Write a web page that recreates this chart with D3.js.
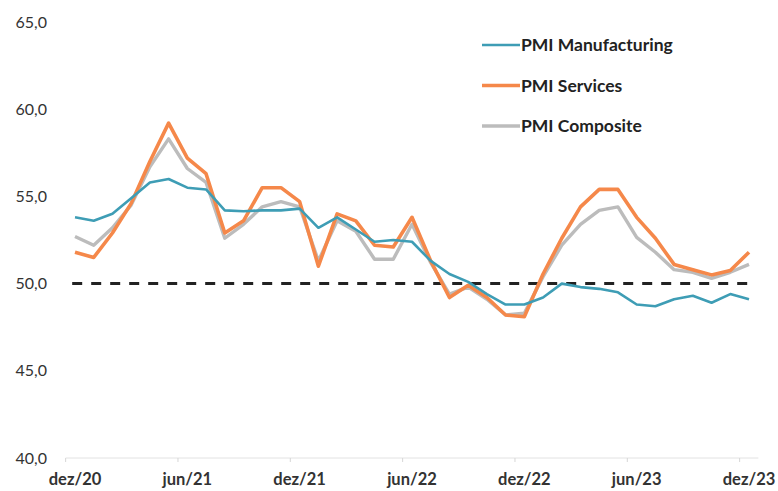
<!DOCTYPE html>
<html>
<head>
<meta charset="utf-8">
<script src="https://cdn.jsdelivr.net/npm/d3@7"></script>
<style>
  body { margin: 0; background: #fff; }
  svg { display: block; }
</style>
</head>
<body>
<svg width="778" height="491"></svg>
<script>
// months dez/20 .. dez/23
const months = [
  "dez/20", "jan/21", "fev/21", "mar/21", "abr/21", "mai/21", "jun/21", "jul/21", "ago/21", "set/21", "out/21", "nov/21",
  "dez/21", "jan/22", "fev/22", "mar/22", "abr/22", "mai/22", "jun/22", "jul/22", "ago/22", "set/22", "out/22", "nov/22",
  "dez/22", "jan/23", "fev/23", "mar/23", "abr/23", "mai/23", "jun/23", "jul/23", "ago/23", "set/23", "out/23", "nov/23",
  "dez/23"
];
const shownLabels = ["dez/20", "jun/21", "dez/21", "jun/22", "dez/22", "jun/23", "dez/23"];

const manufacturing = [
  53.8, 53.6, 54.0, 54.9, 55.8, 56.0, 55.5, 55.4, 54.2, 54.15, 54.2, 54.2,
  54.3, 53.2, 53.8, 53.1, 52.4, 52.5, 52.4, 51.3, 50.55, 50.1, 49.4, 48.8,
  48.8, 49.2, 50.0, 49.8, 49.7, 49.5, 48.8, 48.7, 49.1, 49.3, 48.9, 49.4,
  49.1
];
const services = [
  51.8, 51.5, 52.9, 54.6, 57.0, 59.2, 57.2, 56.3, 52.9, 53.6, 55.5, 55.5,
  54.7, 51.0, 54.0, 53.6, 52.2, 52.1, 53.8, 51.3, 49.2, 49.9, 49.2, 48.2,
  48.1, 50.55, 52.6, 54.4, 55.4, 55.4, 53.8, 52.6, 51.1, 50.8, 50.5, 50.75,
  51.8
];
const composite = [
  52.7, 52.2, 53.2, 54.5, 56.7, 58.3, 56.6, 55.8, 52.6, 53.4, 54.4, 54.7,
  54.4, 51.3, 53.6, 53.0, 51.4, 51.4, 53.4, 51.2, 49.4, 49.8, 49.1, 48.2,
  48.3, 50.4, 52.2, 53.4, 54.2, 54.4, 52.65, 51.8, 50.8, 50.65, 50.3, 50.65,
  51.1
];
const yTicks = [40, 45, 50, 55, 60, 65];
const threshold = 50;

const series = [
  { name: "PMI Manufacturing", values: manufacturing, color: "#3e9db5", width: 2.6 },
  { name: "PMI Services", values: services, color: "#f5884a", width: 3.6 },
  { name: "PMI Composite", values: composite, color: "#bcbcbc", width: 3.4 }
];

const svg = d3.select("svg");

const x = d3.scaleLinear().domain([0, months.length - 1]).range([75, 749]);
const y = d3.scaleLinear().domain([40, 65]).range([458, 22]);

// y labels
svg.append("g")
  .selectAll("text")
  .data(yTicks)
  .join("text")
  .attr("x", 47)
  .attr("y", d => y(d))
  .attr("dy", "0.35em")
  .attr("text-anchor", "end")
  .attr("font-family", "Lato, 'Open Sans', sans-serif")
  .attr("font-size", 16)
  .attr("fill", "#333")
  .text(d => d.toFixed(1).replace(".", ","));

// x axis line + ticks (ticks between categories, Excel style)
const axisG = svg.append("g");
axisG.append("line")
  .attr("x1", x(-0.5)).attr("x2", x(months.length - 0.5))
  .attr("y1", y(40)).attr("y2", y(40))
  .attr("stroke", "#e2e2e2").attr("stroke-width", 1);

axisG.selectAll("line.tick")
  .data(d3.range(0, months.length + 1, 6))
  .join("line")
  .attr("class", "tick")
  .attr("x1", d => x(d - 0.5)).attr("x2", d => x(d - 0.5))
  .attr("y1", y(40)).attr("y2", y(40) + 4)
  .attr("stroke", "#d6d6d6");

axisG.selectAll("text")
  .data(months.map((m, i) => ({ m, i })).filter(d => shownLabels.includes(d.m)))
  .join("text")
  .attr("x", d => x(d.i))
  .attr("y", 479)
  .attr("dy", "0.35em")
  .attr("text-anchor", "middle")
  .attr("font-family", "Lato, 'Open Sans', sans-serif")
  .attr("font-weight", "bold")
  .attr("font-size", 16.5)
  .attr("fill", "#333")
  .text(d => d.m);

// 50 line
svg.append("line")
  .attr("x1", x(-0.15)).attr("x2", x(months.length - 1))
  .attr("y1", y(threshold)).attr("y2", y(threshold))
  .attr("stroke", "#222")
  .attr("stroke-width", 3)
  .attr("stroke-dasharray", "10,9");

// series lines
const line = d3.line()
  .x((d, i) => x(i))
  .y(d => y(d));

// draw composite first, then services, then manufacturing on top
[series[2], series[1], series[0]].forEach(s => {
  svg.append("path")
    .datum(s.values)
    .attr("fill", "none")
    .attr("stroke", s.color)
    .attr("stroke-width", s.width)
    .attr("stroke-linejoin", "round")
    .attr("d", line);
});

// legend
const legend = svg.append("g").attr("transform", "translate(482,45)");
const rows = legend.selectAll("g")
  .data(series)
  .join("g")
  .attr("transform", (d, i) => `translate(0,${i * 40.5})`);

rows.append("line")
  .attr("x1", 0).attr("x2", 38)
  .attr("stroke", d => d.color)
  .attr("stroke-width", d => d.width);

rows.append("text")
  .attr("x", 39)
  .attr("dy", "0.35em")
  .attr("font-family", "Lato, 'Open Sans', sans-serif")
  .attr("font-weight", "bold")
  .attr("font-size", 17.5)
  .attr("fill", "#222")
  .text(d => d.name);
</script>
</body>
</html>
